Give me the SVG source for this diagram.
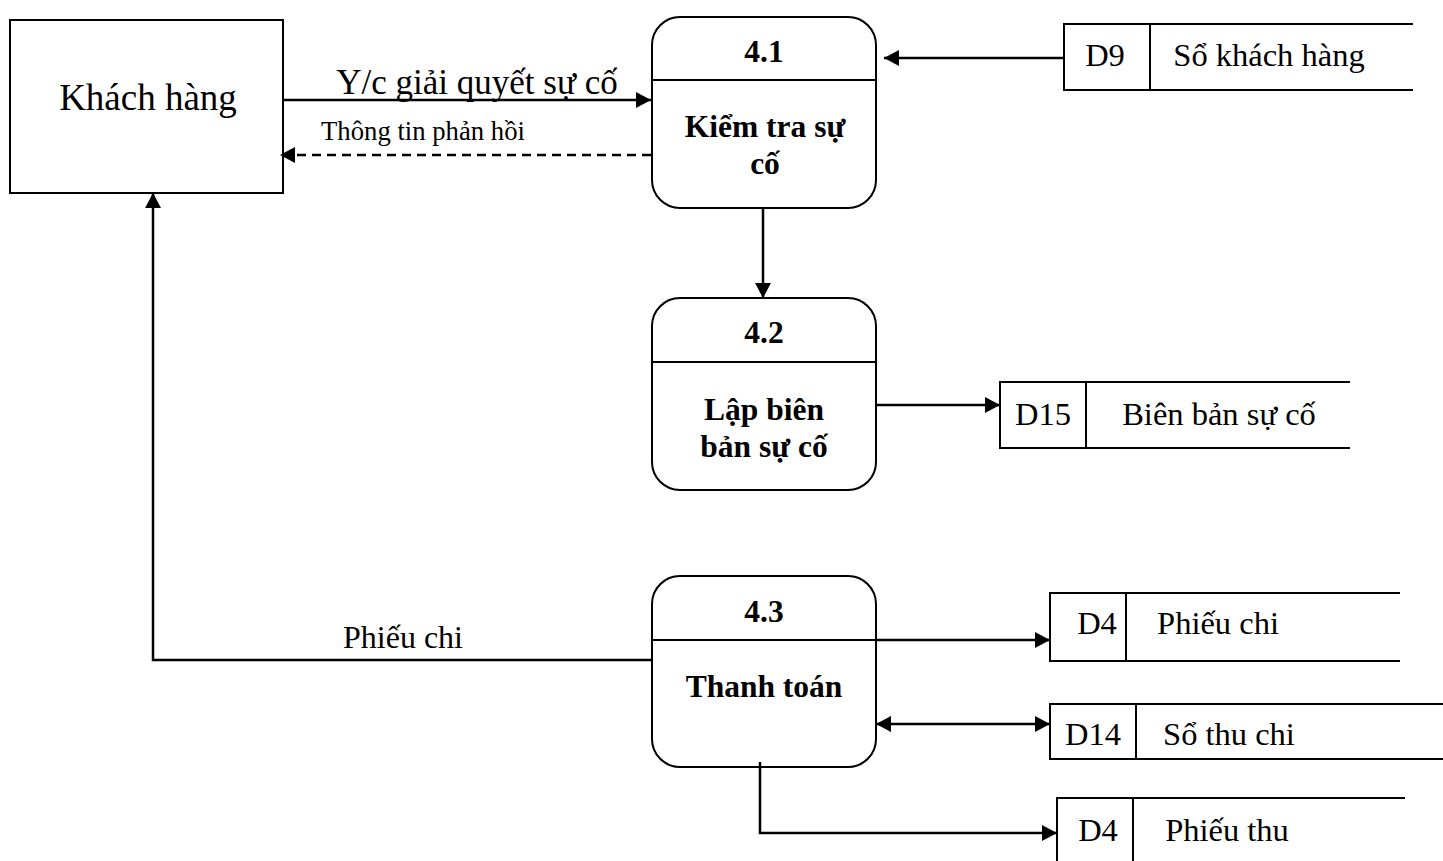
<svg xmlns="http://www.w3.org/2000/svg" width="1443" height="861" viewBox="0 0 1443 861">
<defs>
<marker id="arr" markerUnits="userSpaceOnUse" markerWidth="16" markerHeight="16" refX="15" refY="8" orient="auto-start-reverse"><path d="M0,0 L15,8 L0,16 z" fill="#000"/></marker>
<style>
.box{fill:#fff;stroke:#000;stroke-width:2}
.ln{fill:none;stroke:#000;stroke-width:2}
.cn{fill:none;stroke:#000;stroke-width:2.5}
text{font-family:'Liberation Serif','DejaVu Serif',serif;fill:#000;text-anchor:middle;font-size:32.5px}
.b{font-weight:bold;font-size:31.5px}
</style>
</defs>
<g id="khachhang">
<rect class="box" x="10" y="20" width="273" height="173"/>
<text x="148" y="110" style="font-size:37px">Khách hàng</text>
</g>
<g id="p41">
<rect class="box" x="652" y="17" width="224" height="191" rx="28"/>
<line class="ln" x1="652" y1="80" x2="876" y2="80"/>
<text class="b" x="764" y="62">4.1</text>
<text class="b" x="765" y="137">Kiểm tra sự</text>
<text class="b" x="765" y="174">cố</text>
</g>
<g id="p42">
<rect class="box" x="652" y="298" width="224" height="192" rx="28"/>
<line class="ln" x1="652" y1="362" x2="876" y2="362"/>
<text class="b" x="764" y="343">4.2</text>
<text class="b" x="764" y="420">Lập biên</text>
<text class="b" x="764" y="457">bản sự cố</text>
</g>
<g id="p43">
<rect class="box" x="652" y="576" width="224" height="191" rx="28"/>
<line class="ln" x1="652" y1="640" x2="876" y2="640"/>
<text class="b" x="764" y="622">4.3</text>
<text class="b" x="764" y="697">Thanh toán</text>
</g>
<g id="d9">
<path class="ln" d="M1413,24 H1064 V90 H1413 M1150,24 V90"/>
<text x="1105" y="66">D9</text>
<text x="1269" y="66">Sổ khách hàng</text>
</g>
<g id="d15">
<path class="ln" d="M1350,382 H1000 V448 H1350 M1086,382 V448"/>
<text x="1043" y="425">D15</text>
<text x="1219" y="425">Biên bản sự cố</text>
</g>
<g id="d4chi">
<path class="ln" d="M1400,593 H1050 V661 H1400 M1126,593 V661"/>
<text x="1097" y="634">D4</text>
<text x="1218" y="634">Phiếu chi</text>
</g>
<g id="d14">
<path class="ln" d="M1443,704 H1050 V759 H1443 M1136,704 V759"/>
<text x="1093" y="745">D14</text>
<text x="1229" y="745">Sổ thu chi</text>
</g>
<g id="d4thu">
<path class="ln" d="M1405,798 H1057 V861 M1133,798 V861"/>
<text x="1098" y="841">D4</text>
<text x="1227" y="841">Phiếu thu</text>
</g>
<g id="connectors">
<line class="cn" x1="283" y1="100" x2="651" y2="100" marker-end="url(#arr)"/>
<text x="477" y="94" style="font-size:35px">Y/c giải quyết sự cố</text>
<line class="cn" x1="651" y1="155" x2="280" y2="155" stroke-dasharray="9,6" marker-end="url(#arr)"/>
<text x="423" y="140" style="font-size:26.7px">Thông tin phản hồi</text>
<line class="cn" x1="1063" y1="58" x2="884" y2="58" marker-end="url(#arr)"/>
<line class="cn" x1="763" y1="208" x2="763" y2="298" marker-end="url(#arr)"/>
<line class="cn" x1="876" y1="405" x2="1000" y2="405" marker-end="url(#arr)"/>
<polyline class="cn" points="652,660 153,660 153,193" marker-end="url(#arr)"/>
<text x="403" y="648" style="font-size:32px">Phiếu chi</text>
<line class="cn" x1="876" y1="640" x2="1050" y2="640" marker-end="url(#arr)"/>
<line class="cn" x1="876" y1="724" x2="1050" y2="724" marker-start="url(#arr)" marker-end="url(#arr)"/>
<polyline class="cn" points="760,762 760,833 1057,833" marker-end="url(#arr)"/>
</g>
</svg>
